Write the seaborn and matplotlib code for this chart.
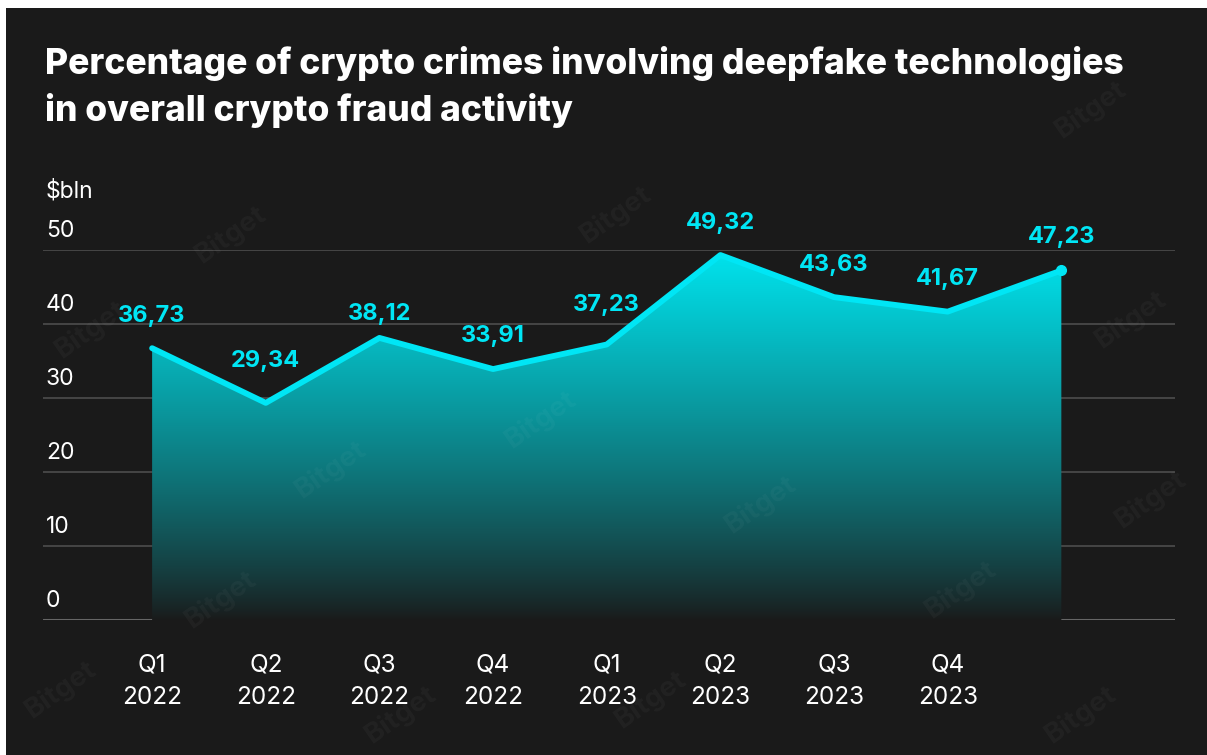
import numpy as np
import matplotlib
matplotlib.use("Agg")
import matplotlib.pyplot as plt
from matplotlib.patches import Rectangle
import seaborn as sns
import pandas as pd

# Quarterly values ($bln)
quarters = ["Q1\n2022", "Q2\n2022", "Q3\n2022", "Q4\n2022",
            "Q1\n2023", "Q2\n2023", "Q3\n2023", "Q4\n2023"]
values = [36.73, 29.34, 38.12, 33.91, 37.23, 49.32, 43.63, 41.67, 47.23]
value_labels = ["36,73", "29,34", "38,12", "33,91", "37,23",
                "49,32", "43,63", "41,67", "47,23"]
y_ticks = [0, 10, 20, 30, 40, 50]

title = "Percentage of crypto crimes involving deepfake technologies\nin overall crypto fraud activity"
unit = "$bln"

# vertical lift of each value label above its point (points)
label_lift = [23, 30, 17, 23.5, 28.5, 23, 23, 23.5, 24]

BG = "#1a1a1a"
CYAN = "#00e6f5"
GRID = "#4d4d4d"

sns.set_theme(style="dark")
plt.rcParams["font.family"] = ["Inter", "DejaVu Sans"]

W, H = 1207, 755
fig = plt.figure(figsize=(W / 100, H / 100), dpi=100, facecolor="white")
# dark card behind everything
fig.patches.append(Rectangle((6 / W, 0), 1 - 6 / W, 1 - 8 / H,
                             transform=fig.transFigure, facecolor=BG,
                             edgecolor="none", zorder=-10))

ax = fig.add_axes([43 / W, (H - 620) / H, 1132 / W, 370 / H])
ax.set_zorder(1)
ax.set_facecolor("none")

x = np.arange(len(values))
df = pd.DataFrame({"x": x, "value": values})

# grid lines and y labels
for t in y_ticks:
    ax.axhline(t, color="#666666" if t == 0 else GRID,
               lw=2.2 if t == 0 else 1.2, zorder=1)
    ax.annotate(str(t), xy=(0, t), xycoords=("axes fraction", "data"),
                xytext=(2, 13.8), textcoords="offset points",
                color="white", fontsize=16.5, ha="left", va="center",
                annotation_clip=False)
ax.annotate(unit, xy=(0, 50), xycoords=("axes fraction", "data"),
            xytext=(2, 42.5), textcoords="offset points",
            color="white", fontsize=16.5, ha="left", va="center",
            annotation_clip=False)

# gradient fill under the line
fill = ax.fill_between(x, values, 0, color="none", lw=0, zorder=2)
ny = 400
yy = np.linspace(0, 1, ny)[:, None]
t = yy ** 0.85
bg_rgb = np.array(matplotlib.colors.to_rgb(BG))
top_rgb = np.array(matplotlib.colors.to_rgb("#00e4ee"))
img = bg_rgb + t[..., None] * (top_rgb - bg_rgb)
img = np.repeat(img, 2, axis=1)
im = ax.imshow(img, extent=(x[0], x[-1], 0, 50), origin="lower",
               aspect="auto", zorder=2, interpolation="bilinear")
clip = fill.get_paths()[0]
im.set_clip_path(clip, transform=ax.transData)

n_before = len(ax.lines)
sns.lineplot(data=df, x="x", y="value", ax=ax, color=CYAN, lw=4.2,
             zorder=4, legend=False)
for ln in ax.lines[n_before:]:
    ln.set_solid_capstyle("round")
    ln.set_solid_joinstyle("round")
ax.plot(x[-1], values[-1], "o", color=CYAN, ms=7, zorder=5)

ax.set_xlabel("")
ax.set_ylabel("")
ax.set_xlim(-0.96, 9.0)
ax.set_ylim(0, 50)
ax.set_xticks([])
ax.set_yticks([])
ax.grid(False)
for s in ax.spines.values():
    s.set_visible(False)

# value labels
for xi, v, lab, lift in zip(x, values, value_labels, label_lift):
    ax.annotate(lab, xy=(xi, v), xytext=(0, lift), textcoords="offset points",
                color=CYAN, fontsize=17, fontweight="bold",
                ha="center", va="center", annotation_clip=False, zorder=6)

# category labels
for xi, q in zip(x, quarters):
    ax.annotate(q, xy=(xi, 0), xytext=(0, -24), textcoords="offset points",
                color="white", fontsize=17.5, ha="center", va="top",
                linespacing=1.55, annotation_clip=False)

# faint watermarks
wm_pos = [(230, 235), (90, 330), (615, 215), (1090, 110), (1130, 320),
          (540, 420), (760, 505), (1150, 500), (220, 600), (960, 590),
          (60, 690), (400, 715), (1080, 715), (650, 700), (330, 470)]
for px, py in wm_pos:
    fig.text(px / W, 1 - py / H, "Bitget", color="white", alpha=0.035,
             fontsize=20, fontweight="bold", rotation=35, ha="center",
             va="center", zorder=5)

fig.text(45 / W, 1 - 46 / H, title, color="white", fontsize=25.5,
         fontweight="heavy", ha="left", va="top", linespacing=1.42)

fig.savefig("out.png", dpi=100, facecolor="white")
